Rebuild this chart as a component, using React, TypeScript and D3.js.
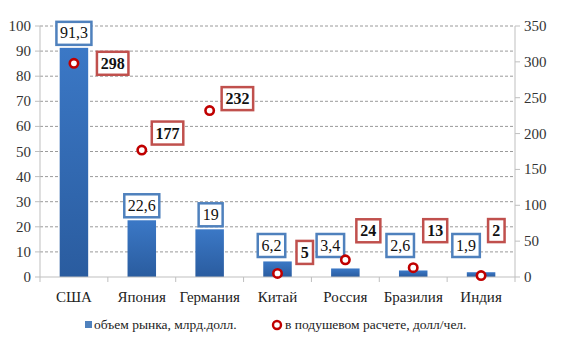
import React from "react";
import * as d3 from "d3";

const categories = ["США", "Япония", "Германия", "Китай", "Россия", "Бразилия", "Индия"];
const marketValues = [91.3, 22.6, 19, 6.2, 3.4, 2.6, 1.9];
const marketLabels = ["91,3", "22,6", "19", "6,2", "3,4", "2,6", "1,9"];
const perCapita = [298, 177, 232, 5, 24, 13, 2];
const leftTicks = [0, 10, 20, 30, 40, 50, 60, 70, 80, 90, 100];
const rightTicks = [0, 50, 100, 150, 200, 250, 300, 350];
const legendLabels = ["объем рынка, млрд.долл.", "в подушевом расчете, долл/чел."];

// label placement offsets (layout only)
const barLabelDx = [0, 0, 1, -6, -15, -13, -15];
const pointLabelDx = [23, 10, 12, 19, 11, 10, 7];
const pointLabelDy = [0, -17, -12, -21, -29, -37, -45];

const W = 564, H = 358;
const L = 40, R = 515, T = 26, B = 277;
const FONT = "Liberation Serif";

function textW(s: string) {
  let w = 0;
  for (const c of s) w += c === "," ? 3.5 : 7.5;
  return w + 9;
}

export default function App() {
  const x = d3.scaleBand<string>().domain(categories).range([L, R]).paddingInner(0.58).paddingOuter(0.29);
  const xc = d3.scaleBand<string>().domain(categories).range([L, R]);
  const yL = d3.scaleLinear().domain([0, 100]).range([B, T]);
  const yR = d3.scaleLinear().domain([0, 350]).range([B, T]);
  const blue = "#4f81bd";
  const red = "#c0504d";
  const dark = "#c00000";
  const ts = { fontFamily: FONT };

  return (
    <svg width={W} height={H} style={{ position: "fixed", left: 0, top: 0, background: "#fff" }}>
      <defs>
        <linearGradient id="barg" x1="0" y1="0" x2="0" y2="1">
          <stop offset="0" stopColor="#3b78c6" />
          <stop offset="1" stopColor="#2a5c9f" />
        </linearGradient>
      </defs>
      <rect width={W} height={H} fill="#fff" />
      {leftTicks.slice(1).map((t) => (
        <line key={t} x1={L} x2={R} y1={yL(t)} y2={yL(t)} stroke="#9a9a9a" strokeDasharray="3,2" strokeWidth={1} />
      ))}
      <line x1={L} x2={L} y1={T} y2={B} stroke="#bfbfbf" />
      {leftTicks.map((t) => (
        <g key={t}>
          <line x1={L - 5} x2={L} y1={yL(t)} y2={yL(t)} stroke="#bfbfbf" />
          <text x={31} y={yL(t) + 5} textAnchor="end" fontSize={15} fill="#333" style={ts}>{t}</text>
        </g>
      ))}
      <line x1={R} x2={R} y1={T} y2={B} stroke="#bfbfbf" />
      {rightTicks.map((t) => (
        <g key={t}>
          <line x1={R} x2={R + 5} y1={yR(t)} y2={yR(t)} stroke="#bfbfbf" />
          <text x={524} y={yR(t) + 5} textAnchor="start" fontSize={15} fill="#333" style={ts}>{t}</text>
        </g>
      ))}
      {categories.map((c, i) => (
        <rect key={c} x={x(c)} y={yL(marketValues[i])} width={x.bandwidth()} height={B - yL(marketValues[i])} fill="url(#barg)" />
      ))}
      <line x1={L} x2={R} y1={B} y2={B} stroke="#bfbfbf" />
      {categories.map((c) => (
        <line key={c} x1={xc(c)!} x2={xc(c)!} y1={B} y2={B + 5} stroke="#bfbfbf" />
      ))}
      <line x1={R} x2={R} y1={B} y2={B + 5} stroke="#bfbfbf" />
      {categories.map((c) => (
        <text key={c} x={xc(c)! + xc.bandwidth() / 2} y={302} textAnchor="middle" fontSize={15} fill="#222" style={ts}>{c}</text>
      ))}
      {categories.map((c, i) => {
        const w = textW(marketLabels[i]);
        const cx = xc(c)! + xc.bandwidth() / 2 + barLabelDx[i];
        const bottom = Math.min(yL(marketValues[i]) - 3, 257);
        return (
          <g key={c}>
            <rect x={cx - w / 2} y={bottom - 23} width={w} height={23} fill="#fff" stroke={blue} strokeWidth={2.5} />
            <text x={cx} y={bottom - 6.5} textAnchor="middle" fontSize={16} fill="#111" style={ts}>{marketLabels[i]}</text>
          </g>
        );
      })}
      {categories.map((c, i) => {
        const px = xc(c)! + xc.bandwidth() / 2;
        const py = yR(perCapita[i]);
        const lbl = String(perCapita[i]);
        const w = textW(lbl);
        const bx = px + pointLabelDx[i];
        const by = py + pointLabelDy[i];
        return (
          <g key={c}>
            <circle cx={px} cy={py} r={4.2} fill="#fff" stroke={dark} strokeWidth={2.6} />
            <rect x={bx} y={by - 11.5} width={w} height={23} fill="#fff" stroke={red} strokeWidth={2.5} />
            <text x={bx + w / 2} y={by + 5.5} textAnchor="middle" fontSize={16} fontWeight="bold" fill="#111" style={ts}>{lbl}</text>
          </g>
        );
      })}
      <rect x={85} y={321} width={7} height={7} fill={blue} />
      <text x={94} y={329} fontSize={13.5} fill="#222" style={ts}>{legendLabels[0]}</text>
      <circle cx={277} cy={325} r={4} fill="#fff" stroke={dark} strokeWidth={2.4} />
      <text x={285} y={329} fontSize={13.5} fill="#222" style={ts}>{legendLabels[1]}</text>
    </svg>
  );
}
